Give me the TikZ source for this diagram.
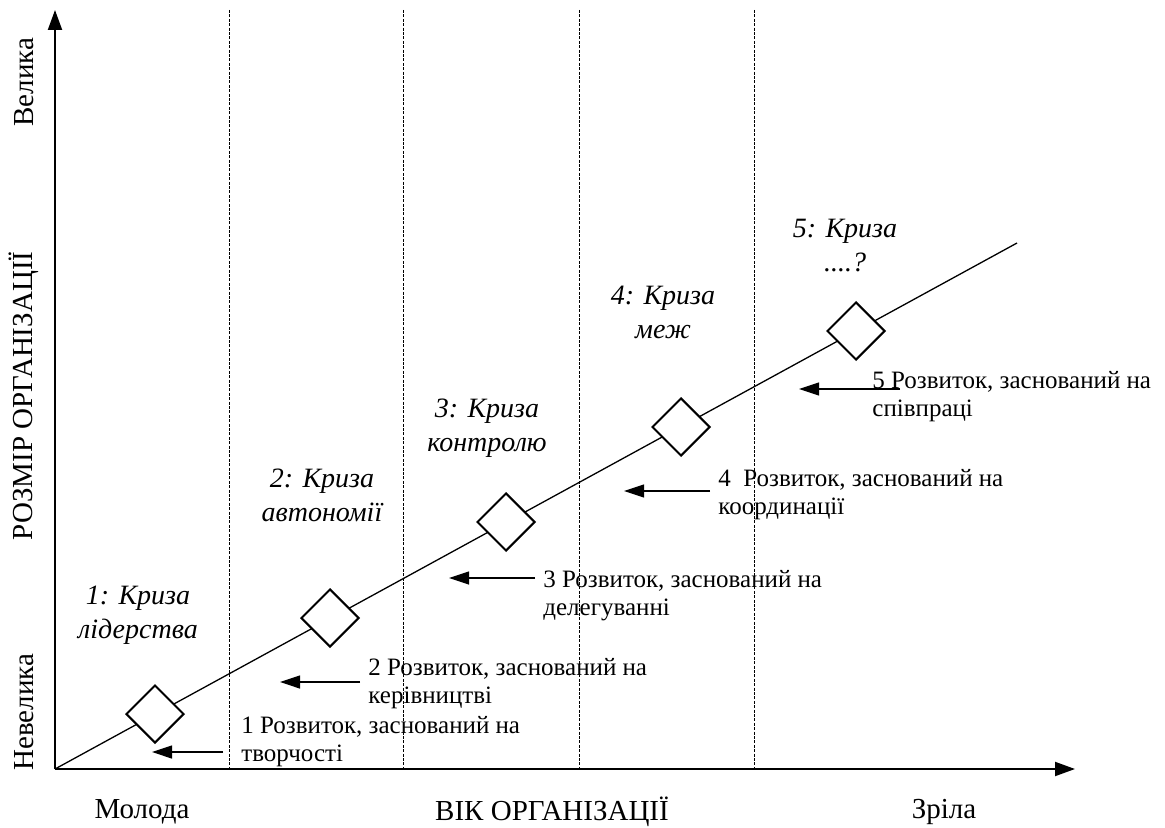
\documentclass[tikz,border=0pt]{standalone}
\usepackage{fontspec}
\setmainfont{Liberation Serif}
\usetikzlibrary{arrows.meta,shapes.geometric}

\tikzset{
  axis/.style={line width=1pt,-{Triangle[length=10pt,width=7pt]}},
  border/.style={line width=0.5pt,dash pattern=on 1.5pt off 0.7pt},
  growth/.style={line width=0.65pt},
  crisis/.style={diamond,draw,line width=1pt,fill=white,minimum size=29pt,inner sep=0pt},
  devarrow/.style={line width=0.6pt,-{Triangle[length=10pt,width=6.5pt]}},
  phase/.style={align=center,font=\fontsize{14}{17}\selectfont\itshape},
  devtext/.style={align=left,anchor=base west,inner sep=0pt,font=\fontsize{12.5}{14}\selectfont},
  axlabel/.style={font=\fontsize{14.5}{17}\selectfont}
}

\begin{document}
\begin{tikzpicture}[x=0.5pt,y=-0.5pt]
\useasboundingbox (0,0) rectangle (1165,828);

% axes
\coordinate (o) at (55,769);
\coordinate (ytop) at (55,10);
\coordinate (xend) at (1075,769);
\coordinate (lend) at (1017,243);

\foreach \x in {229,403,579,754}
\draw[border] (\x,10) -- (\x,769);

\draw[axis] (o) -- (ytop);
\draw[axis] (o) -- (xend);
\draw[growth] (o) -- (lend);

% crises on the growth line
\node[crisis] (c1) at (155,714) {};
\node[crisis] (c2) at (330,618) {};
\node[crisis] (c3) at (506,522) {};
\node[crisis] (c4) at (681,427) {};
\node[crisis] (c5) at (856,331) {};

\node[phase] (p1) at (138,615) {1: Криза\\лідерства};
\node[phase] (p2) at (322,495) {2: Криза\\автономії};
\node[phase] (p3) at (487,428) {3: Криза\\контролю};
\node[phase] (p4) at (663,312) {4: Криза\\меж};
\node[phase] (p5) at (845,246) {5: Криза\\....?};

% development (base = last line)
\node[devtext] (t1) at (241,761) {1 Розвиток, заснований на\\творчості};
\node[devtext] (t2) at (368,703) {2 Розвиток, заснований на\\керівництві};
\node[devtext] (t3) at (543,615) {3 Розвиток, заснований на\\делегуванні};
\node[devtext] (t4) at (718,514) {4\ \ Розвиток, заснований на\\координації};
\node[devtext] (t5) at (872,416) {5 Розвиток, заснований на\\співпраці};

\foreach \i/\xa/\xb/\y in {1/223/152/752,2/360/280/682,3/535/449/578,4/710/624/491,5/900/799/389}{
  \coordinate (s\i) at (\xa,\y);
  \coordinate (e\i) at (\xb,\y);
  \draw[devarrow] (s\i) -- (e\i);
}

% axis labels
\node[axlabel,rotate=90] (big) at (24,82) {Велика};
\node[axlabel,rotate=90] (size) at (24,396) {РОЗМІР ОРГАНІЗАЦІЇ};
\node[axlabel,rotate=90] (small) at (24,712) {Невелика};
\node[axlabel] (young) at (142,812) {Молода};
\node[axlabel] (age) at (552,812) {ВІК ОРГАНІЗАЦІЇ};
\node[axlabel] (mature) at (944,812) {Зріла};
\end{tikzpicture}
\end{document}
